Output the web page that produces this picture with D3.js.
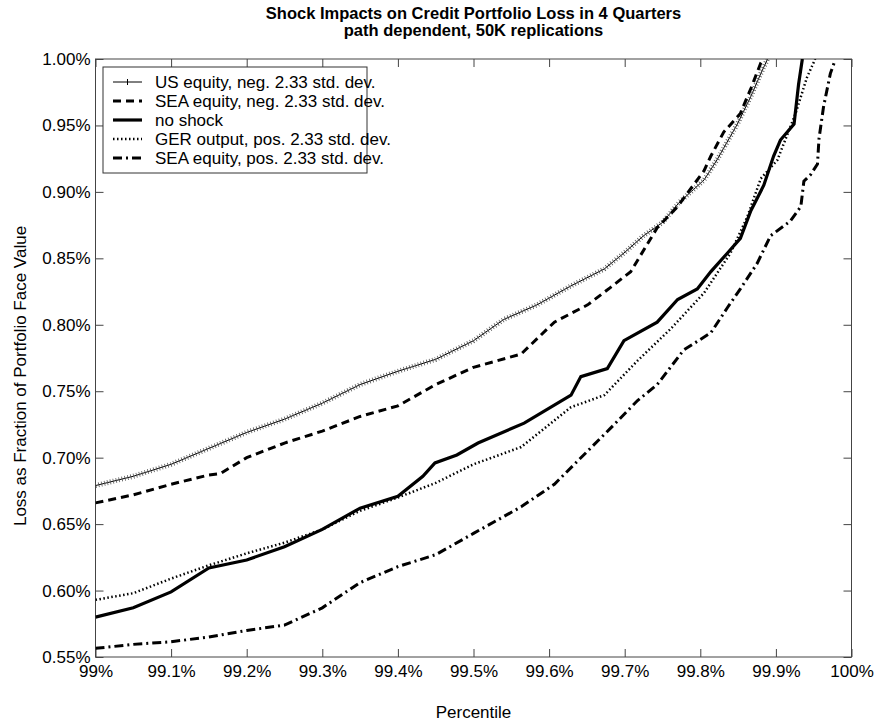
<!DOCTYPE html>
<html lang="en">
<head>
<meta charset="UTF-8">
<title>Shock Impacts on Credit Portfolio Loss</title>
<script src="https://d3js.org/d3.v7.min.js"></script>
<style>
    body { margin: 0; background: #fff; }
    svg { display: block; font-family: "Liberation Sans", Arial, sans-serif; }
    .axis text { font-size: 17px; fill: #000; }
    .axis line { stroke: #444; }
    .axis path { display: none; }
</style>
</head>
<body>
<svg id="chart" width="876" height="722"></svg>
<script>
// percentile (%) vs loss (% of face value)
const usEquityNeg = [[99.00,0.679],[99.05,0.686],[99.10,0.695],[99.15,0.707],[99.20,0.719],[99.25,0.729],[99.30,0.741],[99.35,0.755],[99.40,0.765],[99.45,0.774],[99.50,0.788],[99.54,0.804],[99.584,0.815],[99.628,0.829],[99.673,0.842],[99.699,0.854],[99.725,0.867],[99.75,0.877],[99.772,0.892],[99.805,0.909],[99.822,0.924],[99.849,0.951],[99.867,0.972],[99.88,0.989],[99.889,1.00]];
const seaEquityNeg = [[99.00,0.666],[99.05,0.672],[99.10,0.680],[99.15,0.687],[99.165,0.688],[99.20,0.700],[99.25,0.711],[99.30,0.720],[99.35,0.731],[99.40,0.739],[99.45,0.755],[99.50,0.768],[99.563,0.778],[99.607,0.802],[99.651,0.815],[99.681,0.828],[99.708,0.840],[99.743,0.873],[99.770,0.889],[99.805,0.916],[99.814,0.927],[99.831,0.945],[99.853,0.959],[99.867,0.978],[99.880,0.997],[99.884,1.00]];
const noShock = [[99.00,0.580],[99.05,0.587],[99.10,0.599],[99.15,0.617],[99.20,0.623],[99.25,0.633],[99.30,0.646],[99.35,0.662],[99.40,0.671],[99.433,0.686],[99.449,0.696],[99.478,0.702],[99.506,0.711],[99.567,0.726],[99.629,0.747],[99.642,0.761],[99.677,0.767],[99.699,0.788],[99.743,0.802],[99.770,0.819],[99.796,0.827],[99.814,0.840],[99.836,0.854],[99.853,0.865],[99.867,0.886],[99.884,0.905],[99.897,0.927],[99.906,0.939],[99.924,0.951],[99.930,0.981],[99.935,1.00]];
const gerOutputPos = [[99.00,0.593],[99.05,0.598],[99.10,0.609],[99.15,0.619],[99.20,0.628],[99.25,0.636],[99.30,0.646],[99.35,0.660],[99.40,0.670],[99.45,0.681],[99.50,0.695],[99.563,0.708],[99.629,0.738],[99.673,0.747],[99.717,0.773],[99.761,0.797],[99.805,0.824],[99.840,0.854],[99.862,0.881],[99.880,0.910],[99.902,0.924],[99.926,0.959],[99.941,0.986],[99.952,1.00]];
const seaEquityPos = [[99.00,0.5565],[99.05,0.5595],[99.10,0.5615],[99.15,0.565],[99.20,0.570],[99.25,0.574],[99.30,0.587],[99.35,0.606],[99.40,0.618],[99.45,0.627],[99.50,0.643],[99.563,0.663],[99.607,0.680],[99.651,0.705],[99.681,0.722],[99.717,0.743],[99.743,0.755],[99.778,0.781],[99.814,0.794],[99.836,0.813],[99.853,0.827],[99.875,0.846],[99.893,0.867],[99.919,0.878],[99.933,0.889],[99.937,0.908],[99.946,0.913],[99.955,0.921],[99.957,0.940],[99.963,0.964],[99.972,0.989],[99.977,0.997]];

const seriesNames = ['US equity, neg. 2.33 std. dev.', 'SEA equity, neg. 2.33 std. dev.', 'no shock', 'GER output, pos. 2.33 std. dev.', 'SEA equity, pos. 2.33 std. dev.'];

const xTicks = [99, 99.1, 99.2, 99.3, 99.4, 99.5, 99.6, 99.7, 99.8, 99.9, 100];
const xTickLabels = ['99%', '99.1%', '99.2%', '99.3%', '99.4%', '99.5%', '99.6%', '99.7%', '99.8%', '99.9%', '100%'];
const yTicks = [0.55, 0.60, 0.65, 0.70, 0.75, 0.80, 0.85, 0.90, 0.95, 1.00];
const yTickLabels = ['0.55%', '0.60%', '0.65%', '0.70%', '0.75%', '0.80%', '0.85%', '0.90%', '0.95%', '1.00%'];

const titleLines = ['Shock Impacts on Credit Portfolio Loss in 4 Quarters', 'path dependent, 50K replications'];

// line styles in the same order as the series
const styles = [
    { width: 1, dash: null, hair: true },
    { width: 3, dash: '8,5' },
    { width: 3.2, dash: null },
    { width: 2.5, dash: '1.5,2.5' },
    { width: 3, dash: '9,4,2,4' }
];
const allSeries = [usEquityNeg, seaEquityNeg, noShock, gerOutputPos, seaEquityPos];

const margin = { top: 59, left: 95.5 };
const width = 756, height = 598;

const svg = d3.select('#chart');
const g = svg.append('g').attr('transform', `translate(${margin.left},${margin.top})`);

const x = d3.scaleLinear().domain([99, 100]).range([0, width]);
const y = d3.scaleLinear().domain([0.55, 1.00]).range([height, 0]);

// title
svg.selectAll('.title').data(titleLines).join('text')
    .attr('x', margin.left + width / 2)
    .attr('y', (d, i) => 19 + i * 17)
    .attr('text-anchor', 'middle')
    .style('font-size', '16.5px')
    .style('font-weight', 'bold')
    .text(d => d);

// axes with inward ticks
g.append('g').attr('class', 'axis')
    .attr('transform', `translate(0,${height})`)
    .call(d3.axisBottom(x).tickValues(xTicks).tickFormat((d, i) => xTickLabels[i]).tickSizeInner(-8).tickSizeOuter(0).tickPadding(8));
g.append('g').attr('class', 'axis')
    .call(d3.axisTop(x).tickValues(xTicks).tickFormat('').tickSizeInner(-8).tickSizeOuter(0));
g.append('g').attr('class', 'axis')
    .call(d3.axisLeft(y).tickValues(yTicks).tickFormat((d, i) => yTickLabels[i]).tickSizeInner(-8).tickSizeOuter(0).tickPadding(5));
g.append('g').attr('class', 'axis')
    .attr('transform', `translate(${width},0)`)
    .call(d3.axisRight(y).tickValues(yTicks).tickFormat('').tickSizeInner(-8).tickSizeOuter(0));

g.append('rect')
    .attr('width', width).attr('height', height)
    .attr('fill', 'none').attr('stroke', '#444').attr('stroke-width', 1);

// axis titles
svg.append('text')
    .attr('x', margin.left + width / 2).attr('y', 718)
    .attr('text-anchor', 'middle').style('font-size', '17px')
    .text('Percentile');
svg.append('text')
    .attr('transform', 'rotate(-90)')
    .attr('x', -376).attr('y', 26)
    .attr('text-anchor', 'middle').style('font-size', '17px')
    .text('Loss as Fraction of Portfolio Face Value');

// curves
const clip = g.append('clipPath').attr('id', 'plotclip');
clip.append('rect').attr('width', width).attr('height', height);

const line = d3.line().x(d => x(d[0])).y(d => y(d[1]));
const plot = g.append('g').attr('clip-path', 'url(#plotclip)');

allSeries.forEach((data, i) => {
    const s = styles[i];
    plot.append('path')
        .datum(data)
        .attr('d', line)
        .attr('fill', 'none')
        .attr('stroke', '#000')
        .attr('stroke-width', s.width)
        .attr('stroke-dasharray', s.dash);
    if (s.hair) {
        // dense '+' markers of the original look like short hairs across the line
        plot.append('path')
            .datum(data)
            .attr('d', line)
            .attr('fill', 'none')
            .attr('stroke', '#555')
            .attr('stroke-width', 5)
            .attr('stroke-dasharray', '0.8,2.2');
    }
});

// legend
const legend = svg.append('g').attr('transform', 'translate(103,67)');
legend.append('rect')
    .attr('width', 264).attr('height', 106)
    .attr('fill', '#fff').attr('stroke', '#333');

seriesNames.forEach((name, i) => {
    const s = styles[i];
    const cy = 15 + i * 19;
    legend.append('line')
        .attr('x1', 10).attr('x2', 39).attr('y1', cy).attr('y2', cy)
        .attr('stroke', '#000')
        .attr('stroke-width', s.width)
        .attr('stroke-dasharray', s.dash);
    if (s.hair) {
        legend.append('line')
            .attr('x1', 24.5).attr('x2', 24.5).attr('y1', cy - 3).attr('y2', cy + 3)
            .attr('stroke', '#000');
    }
    legend.append('text')
        .attr('x', 52).attr('y', cy)
        .attr('dy', '0.35em')
        .style('font-size', '17px')
        .text(name);
});
</script>
</body>
</html>
